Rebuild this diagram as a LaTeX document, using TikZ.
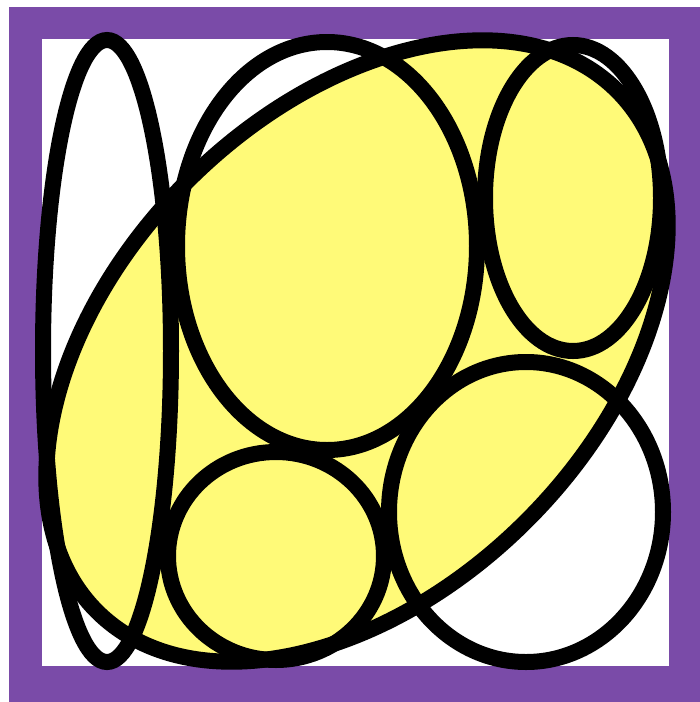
\documentclass[tikz,border=0pt]{standalone}
\definecolor{framepurple}{RGB}{122,75,168}
\definecolor{blobyellow}{RGB}{255,250,120}
\tikzset{
  outline/.style={draw=black, line width=16pt},
}
\begin{document}
\begin{tikzpicture}[x=1pt,y=-1pt]
\useasboundingbox (0,0) rectangle (700,702);
% frame
\fill[framepurple] (9,7) rectangle (700,702);
\fill[white] (42,39) rectangle (669,666);
% big rotated ellipse
\filldraw[fill=blobyellow, outline] (357,351) ellipse [x radius=368, y radius=240, rotate=45];
% narrow left ellipse
\draw[outline] (107,351) ellipse [x radius=64, y radius=311];
% top middle ellipse
\draw[outline] (327,246) ellipse [x radius=150, y radius=204];
% top right ellipse
\draw[outline] (573,198) ellipse [x radius=88, y radius=153];
% bottom middle circle
\draw[outline] (276,556) ellipse [x radius=108, y radius=104];
% bottom right circle
\draw[outline] (526,512) ellipse [x radius=137, y radius=150];
\end{tikzpicture}
\end{document}
